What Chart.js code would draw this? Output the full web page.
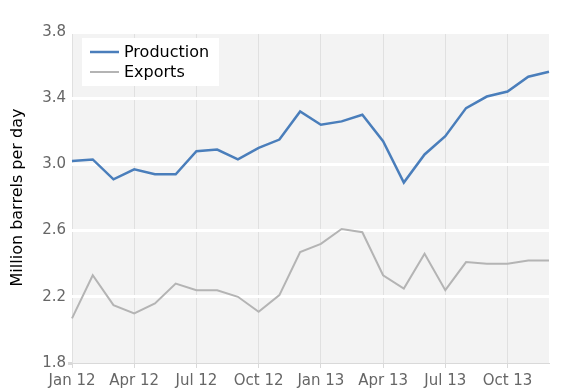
<!DOCTYPE html>
<html>
<head>
<meta charset="utf-8">
<script src="https://cdn.jsdelivr.net/npm/chart.js@4/dist/chart.umd.min.js"></script>
<style>
  html, body { margin: 0; padding: 0; background: #fff; }
</style>
</head>
<body>
<canvas id="oilChart" width="580" height="392"></canvas>
<script>
  'use strict';

  // monthly data, Jan 12 .. Dec 13
  const months = [
    'Jan 12', 'Feb 12', 'Mar 12', 'Apr 12', 'May 12', 'Jun 12',
    'Jul 12', 'Aug 12', 'Sep 12', 'Oct 12', 'Nov 12', 'Dec 12',
    'Jan 13', 'Feb 13', 'Mar 13', 'Apr 13', 'May 13', 'Jun 13',
    'Jul 13', 'Aug 13', 'Sep 13', 'Oct 13', 'Nov 13', 'Dec 13'
  ];
  const production = [
    3.02, 3.03, 2.91, 2.97, 2.94, 2.94, 3.08, 3.09, 3.03, 3.10, 3.15, 3.32,
    3.24, 3.26, 3.30, 3.14, 2.89, 3.06, 3.17, 3.34, 3.41, 3.44, 3.53, 3.56
  ];
  const exports = [
    2.07, 2.33, 2.15, 2.10, 2.16, 2.28, 2.24, 2.24, 2.20, 2.11, 2.21, 2.47,
    2.52, 2.61, 2.59, 2.33, 2.25, 2.46, 2.24, 2.41, 2.40, 2.40, 2.42, 2.42
  ];
  const yMin = 1.8;
  const yMax = 3.8;
  const yStep = 0.4;

  const FONT = '"DejaVu Sans", sans-serif';

  // gray plot area
  const plotBg = {
    id: 'plotBg',
    beforeDraw(chart) {
      const { ctx, chartArea } = chart;
      ctx.save();
      ctx.fillStyle = '#f3f3f3';
      ctx.fillRect(chartArea.left, chartArea.top, chartArea.right - chartArea.left, chartArea.bottom - chartArea.top);
      ctx.restore();
    }
  };

  // legend in a white box inside the plot
  const insideLegend = {
    id: 'insideLegend',
    afterDraw(chart) {
      const { ctx, chartArea } = chart;
      const x = chartArea.left + 10;
      const y = chartArea.top + 6;
      ctx.save();
      ctx.fillStyle = '#fff';
      ctx.fillRect(x, y, 137, 48);
      chart.data.datasets.forEach(function (ds, i) {
        const ly = y + 14 + i * 20;
        ctx.strokeStyle = ds.borderColor;
        ctx.lineWidth = ds.borderWidth;
        ctx.beginPath();
        ctx.moveTo(x + 8, ly);
        ctx.lineTo(x + 37, ly);
        ctx.stroke();
        ctx.fillStyle = '#000';
        ctx.font = '16px ' + FONT;
        ctx.textBaseline = 'middle';
        ctx.fillText(ds.label, x + 42, ly + 1);
      });
      ctx.restore();
    }
  };

  const ctx = document.getElementById('oilChart').getContext('2d');

  const chart = new Chart(ctx, {
    type: 'line',
    data: {
      labels: months,
      datasets: [{
        label: 'Production',
        data: production,
        borderColor: '#4a7ebb',
        borderWidth: 2.5,
      },
      {
        label: 'Exports',
        data: exports,
        borderColor: '#b4b4b4',
        borderWidth: 2,
      }]
    },
    options: {
      responsive: false,
      animation: false,
      layout: { padding: { top: 32, right: 31, left: 0, bottom: 0 } },
      elements: {
        point: { radius: 0 },
        line: { tension: 0 }
      },
      plugins: {
        legend: { display: false },
        tooltip: { enabled: false }
      },
      scales: {
        x: {
          offset: false,
          border: { color: '#d9d9d9' },
          grid: {
            color: (c) => (c.index % 3 === 0 ? '#e0e0e0' : 'transparent'),
            tickColor: (c) => (c.index % 3 === 0 ? '#d9d9d9' : 'transparent'),
            tickLength: 5,
          },
          ticks: {
            autoSkip: false,
            maxRotation: 0,
            padding: 4,
            color: '#666',
            font: { family: FONT, size: 15 },
            callback: function (value, index) {
              return index % 3 === 0 ? months[index] : '';
            }
          },
          afterFit: (scale) => { scale.height = 29; }
        },
        y: {
          min: yMin,
          max: yMax,
          border: { display: false },
          grid: {
            color: (c) => (c.tick && c.tick.value <= yMin ? 'transparent' : '#ffffff'),
            lineWidth: 3,
            tickColor: (c) => (c.tick && c.tick.value <= yMin ? '#d9d9d9' : 'transparent'),
            tickLength: 4,
          },
          ticks: {
            stepSize: yStep,
            padding: 2,
            color: '#666',
            font: { family: FONT, size: 15 },
            callback: (v) => Number(v).toFixed(1)
          },
          title: {
            display: true,
            text: 'Million barrels per day',
            color: '#000',
            padding: { top: 8, bottom: 0 },
            font: { family: FONT, size: 16 }
          },
          afterFit: (scale) => { scale.width = 72; }
        }
      }
    },
    plugins: [plotBg, insideLegend]
  });

  console.log(chart);
</script>
</body>
</html>
